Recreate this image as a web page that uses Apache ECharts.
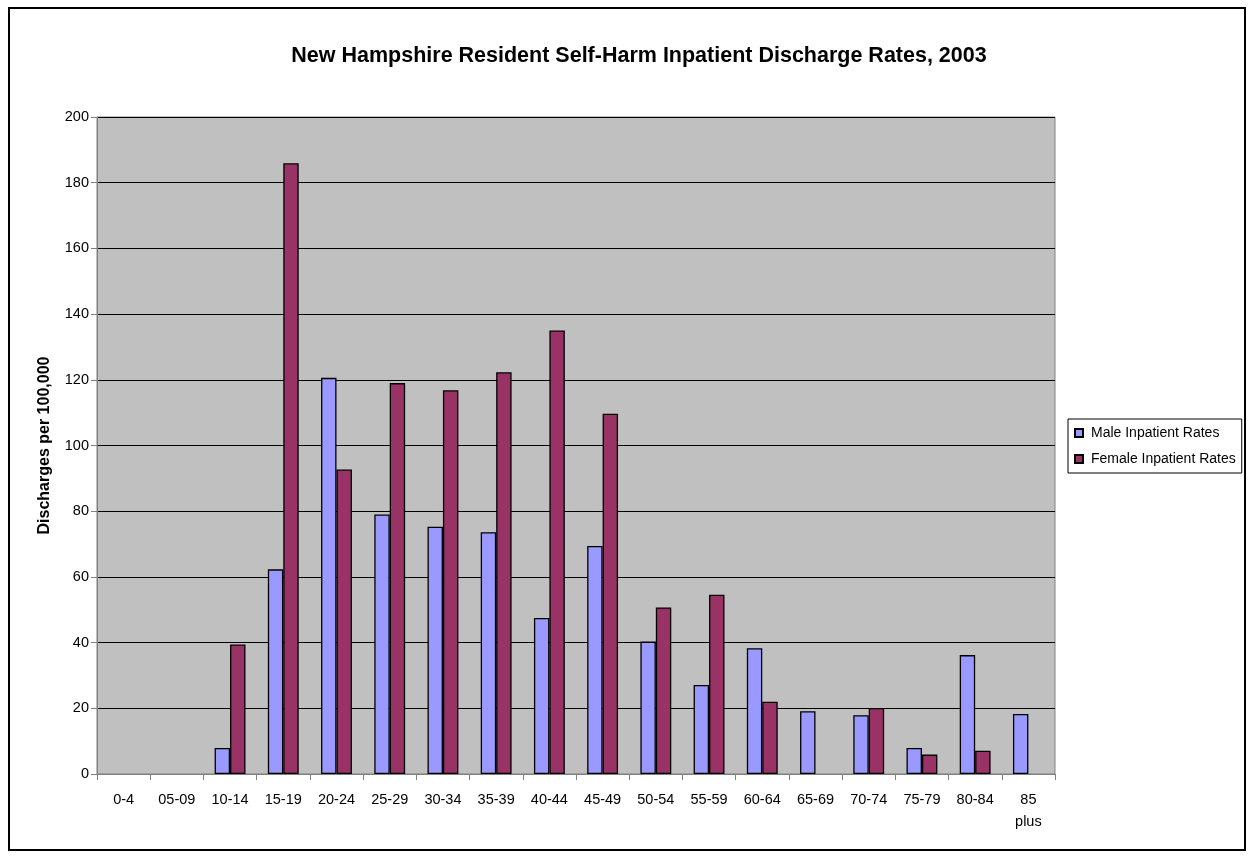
<!DOCTYPE html>
<html>
<head>
<meta charset="utf-8">
<script src="https://cdn.jsdelivr.net/npm/echarts@6/dist/echarts.min.js"></script>
<style>
  html, body { margin: 0; padding: 0; background: #fff; }
  #frame { position: absolute; left: 8px; top: 7px; width: 1238px; height: 844px; border: 2px solid #000; box-sizing: border-box; }
  #chart { position: absolute; left: 0; top: 0; width: 1256px; height: 859px; }
</style>
</head>
<body>
<div id="frame"></div>
<div id="chart"></div>
<script>
// Age groups along the x axis
const ageGroups = ['0-4', '05-09', '10-14', '15-19', '20-24', '25-29', '30-34', '35-39', '40-44',
  '45-49', '50-54', '55-59', '60-64', '65-69', '70-74', '75-79', '80-84', '85\nplus'];

// Discharges per 100,000 residents (null = no discharges reported)
const maleRates = [null, null, 7.9, 62.3, 120.6, 79.0, 75.3, 73.6, 47.5, 69.4, 40.3, 27.1, 38.3, 19.1, 17.9, 7.9, 36.2, 18.3];
const femaleRates = [null, null, 39.4, 185.9, 92.7, 119.0, 116.8, 122.3, 135.0, 109.7, 50.7, 54.6, 22.0, null, 20.1, 5.9, 7.1, null];

const yTicks = { min: 0, max: 200, interval: 20 };

const chart = echarts.init(document.getElementById('chart'), null, { renderer: 'canvas' });
const fontFamily = 'Liberation Sans, Arial, sans-serif';

chart.setOption({
  animation: false,
  backgroundColor: 'transparent',
  title: {
    text: 'New Hampshire Resident Self-Harm Inpatient Discharge Rates, 2003',
    left: 634, top: 40, textAlign: 'center',
    textStyle: { fontFamily, fontSize: 21.5, fontWeight: 'bold', color: '#000' }
  },
  legend: {
    orient: 'vertical',
    left: 1068, top: 419,
    padding: [7, 6, 7, 6],
    itemGap: 12,
    itemWidth: 8, itemHeight: 8,
    icon: 'rect',
    borderColor: '#000', borderWidth: 1,
    textStyle: { fontFamily, fontSize: 14, color: '#000', padding: [0, 0, 0, 3] },
    data: ['Male Inpatient Rates', 'Female Inpatient Rates']
  },
  grid: { left: 97, top: 117, width: 958, height: 657, show: true, backgroundColor: '#C0C0C0', borderColor: '#808080', borderWidth: 1 },
  xAxis: {
    type: 'category',
    data: ageGroups,
    axisLine: { lineStyle: { color: '#808080', width: 1 } },
    axisTick: { show: true, length: 6, lineStyle: { color: '#808080' } },
    axisLabel: { fontFamily, fontSize: 14.5, color: '#000', margin: 15, lineHeight: 22, interval: 0 }
  },
  yAxis: {
    type: 'value',
    min: yTicks.min, max: yTicks.max, interval: yTicks.interval,
    name: 'Discharges per 100,000',
    nameLocation: 'middle',
    nameGap: 44,
    nameTextStyle: { fontFamily, fontSize: 16, fontWeight: 'bold', color: '#000' },
    axisLine: { show: true, lineStyle: { color: '#808080' } },
    axisTick: { show: true, length: 6, lineStyle: { color: '#808080' } },
    axisLabel: { fontFamily, fontSize: 14.5, color: '#000', margin: 8 },
    splitLine: { lineStyle: { color: '#000', width: 1 } }
  },
  series: [
    {
      name: 'Male Inpatient Rates', type: 'bar', data: maleRates,
      barGap: '0%', barCategoryGap: '42%',
      itemStyle: { color: '#9999FF', borderColor: '#000', borderWidth: 1.3 }
    },
    {
      name: 'Female Inpatient Rates', type: 'bar', data: femaleRates,
      barGap: '0%', barCategoryGap: '42%',
      itemStyle: { color: '#993366', borderColor: '#000', borderWidth: 1.3 }
    }
  ]
});
</script>
</body>
</html>
